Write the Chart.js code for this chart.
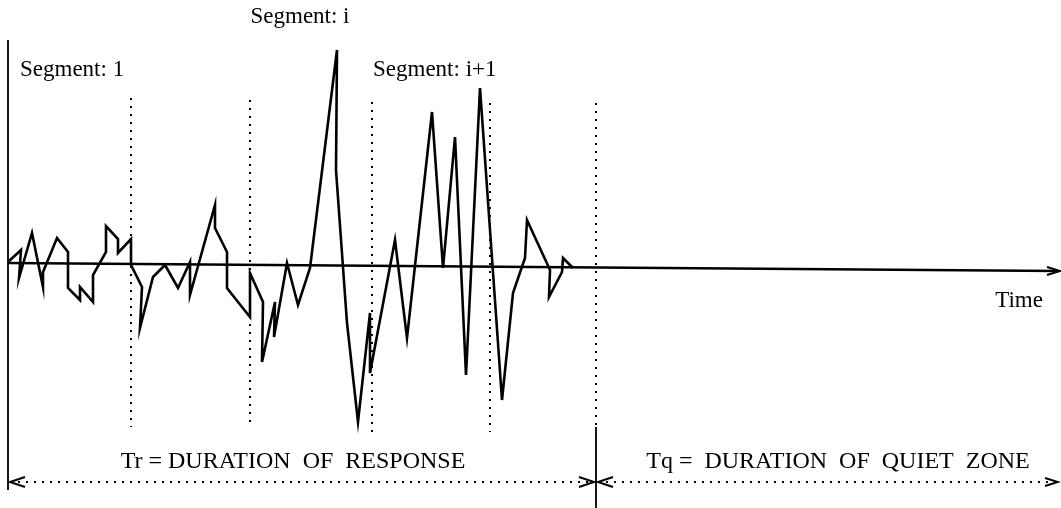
<!DOCTYPE html>
<html>
<head>
<meta charset="utf-8">
<script src="https://cdn.jsdelivr.net/npm/chart.js@4"></script>
<style>
  html, body { margin: 0; padding: 0; background: #fff; }
  #wrap { width: 1061px; height: 508px; position: relative; }
</style>
</head>
<body>
<div id="wrap"><canvas id="chart"></canvas></div>
<script>
// response waveform (time, amplitude)
const waveT = [0, 13, 11, 24, 35, 35, 49, 60, 60, 72, 72, 85, 85, 98, 98, 110, 110, 123, 123, 134, 132, 145, 157, 170, 182, 182, 207, 207, 219, 219, 230, 242, 242, 255, 254, 267, 266, 279, 290, 302, 329, 328, 339, 350, 362, 362, 387, 399, 424, 435, 447, 458, 472, 494, 505, 517, 519, 542, 541, 554, 555, 565];
const waveA = [4, 16, -12, 33, -21, -6, 28, 14, -22, -34, -21, -36, -9, 14, 40, 27, 13, 27, 1, -21, -62, -11, 1, -22, 4, -29, 61, 38, 14, -22, -36, -51, -7, -36, -96, -36, -71, 3, -39, -2, 216, 96, -57, -156, -47, -107, 26, -72, 154, -2, 129, -109, 178, -134, -27, 8, 46, -4, -31, -6, 8, -2];

// segment boundaries (dotted) and their top / bottom ends
const segBounds = [123, 242, 364, 482, 588];
const segTop = [168, 166, 164, 163, 163];
const segBottom = [-161, -161, -169, -166, -161];

// time axis end points
const axisT = [0, 1050];
const axisA = [3, -5];

// duration arrows
const trRange = [2, 586];
const tqRange = [590, 1050];
const arrowA = -216;

const labels = [
  { text: 'Segment: i', t: 292, a: 249, align: 'center', size: 23 },
  { text: 'Segment: 1', t: 12, a: 196, align: 'left', size: 23 },
  { text: 'Segment: i+1', t: 365, a: 196, align: 'left', size: 23 },
  { text: 'Time', t: 1011, a: -35, align: 'center', size: 23 },
  { text: 'Tr = DURATION  OF  RESPONSE', t: 285, a: -196, align: 'center', size: 24 },
  { text: 'Tq =  DURATION  OF  QUIET  ZONE', t: 830, a: -196, align: 'center', size: 24 }
];

const pts = (ts, as) => ts.map((t, i) => ({ x: t, y: as[i] }));
const line = (data, width, dash) => ({
  data, borderColor: '#000', borderWidth: width, borderDash: dash || [],
  pointRadius: 0, tension: 0, fill: false, clip: false
});

// open arrowhead: tip at (t, a), opening towards dir (+1 right / -1 left)
const head = (t, a, dir, len, half) => pts([t + dir * len, t, t + dir * len], [a + half, a, a - half]);

const datasets = [];
datasets.push(line(pts(waveT, waveA), 2.6));
datasets.push(line(pts(axisT, axisA), 2.5));
datasets.push(line(head(axisT[1] + 2, axisA[1], -1, 13, 4), 2.2));
datasets.push(line(pts([0, 0], [226, -224]), 1.8));

segBounds.forEach((t, i) => {
  datasets.push(line(pts([t, t], [segTop[i], segBottom[i]]), 2, [2, 6]));
});
// solid stub under the last boundary
datasets.push(line(pts([segBounds[4], segBounds[4]], [segBottom[4], -242]), 1.8));

datasets.push(line(pts(trRange, [arrowA, arrowA]), 2, [2, 6]));
datasets.push(line(pts(tqRange, [arrowA, arrowA]), 2, [2, 6]));
datasets.push(line(head(trRange[0], arrowA, 1, 15, 5), 2));
datasets.push(line(head(trRange[1], arrowA, -1, 15, 5), 2));
datasets.push(line(head(tqRange[0], arrowA, 1, 15, 5), 2));
datasets.push(line(head(tqRange[1], arrowA, -1, 13, 4), 2));

const textPlugin = {
  id: 'texts',
  afterDatasetsDraw(chart) {
    const { ctx, scales } = chart;
    ctx.save();
    ctx.fillStyle = '#000';
    ctx.textBaseline = 'middle';
    for (const l of labels) {
      ctx.font = l.size + 'px "Liberation Serif", "Times New Roman", serif';
      ctx.textAlign = l.align;
      ctx.fillText(l.text, scales.x.getPixelForValue(l.t), scales.y.getPixelForValue(l.a));
    }
    ctx.restore();
  }
};

new Chart(document.getElementById('chart'), {
  type: 'line',
  data: { datasets },
  options: {
    responsive: true,
    maintainAspectRatio: false,
    animation: false,
    layout: { padding: 0 },
    plugins: { legend: { display: false }, tooltip: { enabled: false } },
    scales: {
      x: { type: 'linear', min: -8, max: 1053, display: false },
      y: { type: 'linear', min: -242, max: 266, display: false }
    }
  },
  plugins: [textPlugin]
});
</script>
</body>
</html>
